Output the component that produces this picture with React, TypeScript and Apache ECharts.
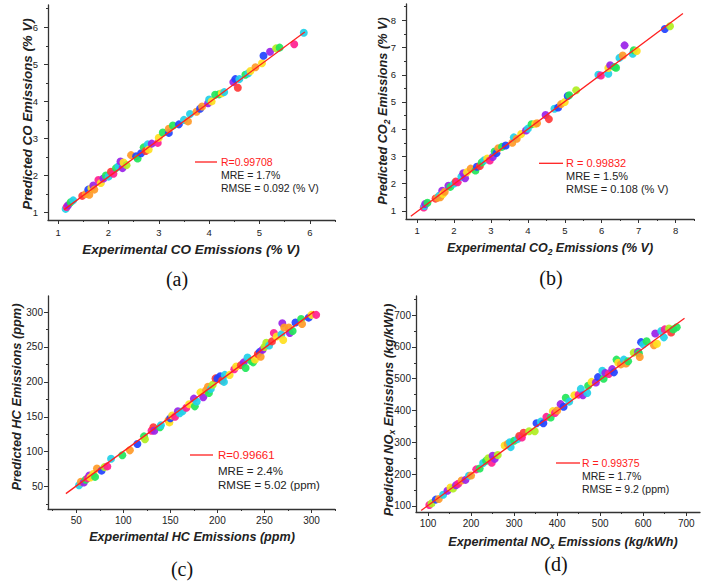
import React, { useEffect, useRef } from "react";
import * as echarts from "echarts";

// ---------- data ----------
const coExp = [1.15,1.17,1.20,1.25,1.30,1.48,1.55,1.60,1.62,1.66, 1.70,1.72,1.80,1.85,1.90,1.95,2.00,2.05,2.10,2.15, 2.20,2.24,2.28,2.30,2.36,2.45,2.55,2.58,2.65,2.70, 2.74,2.78,2.80,2.86,2.98,3.00,3.08,3.20,3.20,3.28, 3.40,3.50,3.58,3.62,3.75,3.82,3.86,3.98,4.00,4.05, 4.12,4.20,4.25,4.30,4.48,4.52,4.57,4.60,4.72,4.78, 4.82,4.92,5.05,5.08,5.21,5.33,5.40,5.69,5.88];
const coPred = [1.10,1.15,1.20,1.28,1.33,1.45,1.50,1.62,1.48,1.66, 1.73,1.62,1.88,1.80,1.92,2.00,1.97,2.10,2.05,2.20, 2.25,2.38,2.20,2.35,2.28,2.55,2.52,2.46,2.60,2.76, 2.66,2.84,2.70,2.86,2.88,3.02,3.16,3.15,3.26,3.35, 3.38,3.50,3.46,3.66,3.72,3.80,3.86,3.95,4.05,4.00, 4.18,4.19,4.22,4.25,4.52,4.60,4.37,4.60,4.72,4.76, 4.82,4.92,5.03,5.23,5.34,5.43,5.45,5.54,5.85];
const coHue = "cmpgcroboy" + "pomypgcrmg" + "cppylobgbg" + "rcypmygbog" + "bcocobopcy" + "ggycpbrcgc" + "yoybplgmc";
const coFit = [[1.12, 1.08], [5.9, 5.87]];
const coXTicks = [1, 2, 3, 4, 5, 6];
const coXMinor = [1.5, 2.5, 3.5, 4.5, 5.5, 6.5];
const coYTicks = [1, 2, 3, 4, 5, 6];
const coYMinor = [1.5, 2.5, 3.5, 4.5, 5.5, 6.5];

const co2Exp = [1.18,1.20,1.22,1.28,1.50,1.55,1.60,1.63,1.68,1.70, 1.75,1.85,1.90,2.00,2.05,2.10,2.20,2.25,2.30,2.35, 2.45,2.58,2.62,2.70,2.75,2.82,2.90,2.97,3.05,3.10, 3.15,3.20,3.30,3.40,3.58,3.62,3.70,3.82,3.95,4.00, 4.10,4.20,4.25,4.48,4.57,4.72,4.82,4.90,5.00,5.08, 5.12,5.31,5.91,5.98,6.18,6.18,6.23,6.35,6.39,6.48, 6.57,6.62,6.84,6.87,6.95,7.71,7.85];
const co2Pred = [1.12,1.18,1.25,1.30,1.45,1.48,1.56,1.50,1.74,1.62, 1.70,1.92,1.88,2.00,2.08,2.05,2.25,2.38,2.20,2.42, 2.55,2.48,2.62,2.65,2.78,2.86,2.92,2.85,2.98,3.18, 3.12,3.30,3.35,3.40,3.50,3.70,3.65,3.82,3.95,4.02, 4.18,4.20,4.22,4.52,4.37,4.75,4.80,4.92,5.00,5.22, 5.25,5.43,6.00,5.97,6.04,6.25,6.35,6.28,6.26,6.62, 6.71,7.08,6.77,6.90,6.87,7.68,7.78];
const co2Hue = "mcpgrocopy" + "opgcrmcppy" + "ogbrgcympg" + "bogbocoypc" + "gyoprcboyb" + "glcmcypggc" + "opcgybl";
const co2Fit = [[0.83, 0.8], [8.2, 8.25]];
const co2XTicks = [1, 2, 3, 4, 5, 6, 7, 8];
const co2XMinor = [1.5, 2.5, 3.5, 4.5, 5.5, 6.5, 7.5, 8.5];
const co2YTicks = [1, 2, 3, 4, 5, 6, 7, 8];
const co2YMinor = [1.5, 2.5, 3.5, 4.5, 5.5, 6.5, 7.5, 8.5];

const hcExp = [53,55,58,60,62,64,65,68,70,72, 77,80,83,87,99,107,115,122,123,130, 132,133,139,140,148,149,150,152,155,158, 160,163,167,170,175,176,178,182,185,188, 190,191,193,195,198,200,203,205,207,208, 213,218,220,225,228,230,232,236,238,240, 243,245,246,248,250,252,255,258,260,263, 268,269,270,271,276,277,280,283,289,290, 297,300,305];
const hcPred = [52,57,56,60,62,66,63,68,64,76, 73,78,79,90,95,102,111,122,118,130, 135,130,135,138,145,142,148,152,150,158, 155,158,163,168,176,165,172,185,178,188, 193,184,190,196,205,205,208,202,200,210, 210,218,222,224,228,220,235,230,228,232, 240,243,236,246,250,256,252,258,270,265, 268,284,260,278,278,270,273,285,290,283, 292,296,296];
const hcHue = "copgmpyygo" + "blmcgobglm" + "rpgcoybymp" + "ccmypgcypo" + "ogclrbbrcc" + "ymyrpgcggy" + "rbopllcrmy" + "cpyoopgbgo" + "bym";
const hcFit = [[39, 40], [303, 301]];
const hcXTicks = [50, 100, 150, 200, 250, 300];
const hcXMinor = [25, 75, 125, 175, 225, 275, 325];
const hcYTicks = [50, 100, 150, 200, 250, 300];
const hcYMinor = [25, 75, 125, 175, 225, 275];

const noxExp = [103,108,118,125,135,145,152,158,165,170, 178,187,195,200,212,220,228,235,240,248, 250,255,262,278,285,290,292,300,308,312, 318,322,335,348,352,362,368,375,385,390, 395,400,408,415,420,428,440,450,455,460, 470,472,480,490,495,505,508,512,520,528, 532,538,542,548,555,560,565,578,588,590, 592,595,600,608,625,628,632,642,648,650, 660,665,670,678];
const noxPred = [103,108,120,122,135,148,158,155,165,170, 180,182,195,196,215,218,235,242,250,236, 258,248,260,290,295,300,285,305,310,320, 315,330,335,335,360,365,360,380,378,398, 392,400,420,412,440,428,448,450,468,448, 455,478,490,488,505,525,500,518,515,530, 520,560,550,545,560,548,555,582,585,580, 568,615,608,618,605,642,610,650,630,655, 658,645,655,662];
const noxHue = "mlbocpylpm" + "opcomgcglm" + "pplyoccgcr" + "mrllbcbmgy" + "mopbgcymcp" + "cgypbcgpmp" + "bgyocoglpg" + "obcgopyccm" + "lrgg";
const noxFit = [[84, 86], [696, 690]];
const noxXTicks = [100, 200, 300, 400, 500, 600, 700];
const noxXMinor = [150, 250, 350, 450, 550, 650];
const noxYTicks = [100, 200, 300, 400, 500, 600, 700];
const noxYMinor = [150, 250, 350, 450, 550, 650, 750];

// ---------- styling ----------
const PALETTE: Record<string, string> = {
  r: "#ff3838", o: "#ff9a28", y: "#ffe01e", l: "#b0ee22", g: "#22e65a",
  c: "#22d0e8", b: "#2242ff", p: "#9a22e8", m: "#ff2090",
};
const SANS = "'Liberation Sans', Arial, Helvetica, sans-serif";
const SERIF = "'Liberation Serif', 'Times New Roman', serif";
const AXIS_COLOR = "#333";
const TEXT_COLOR = "#222";
const FIT_COLOR = "#ff2020";

type AxisCfg = { min: number; max: number; major: number[]; minor: number[]; fontSize: number; margin: number };
type Panel = {
  exp: number[]; pred: number[]; hue: string; fit: number[][];
  grid: [number, number, number, number];
  x: AxisCfg; y: AxisCfg;
};

const panels: Panel[] = [
  { exp: coExp, pred: coPred, hue: coHue, fit: coFit, grid: [48, 5, 287, 215],
    x: { min: 0.8, max: 6.5, major: coXTicks, minor: coXMinor, fontSize: 9.5, margin: 7 },
    y: { min: 0.8, max: 6.6, major: coYTicks, minor: coYMinor, fontSize: 9.5, margin: 10 } },
  { exp: co2Exp, pred: co2Pred, hue: co2Hue, fit: co2Fit, grid: [406, 4, 288, 215],
    x: { min: 0.7, max: 8.5, major: co2XTicks, minor: co2XMinor, fontSize: 9.5, margin: 6 },
    y: { min: 0.7, max: 8.6, major: co2YTicks, minor: co2YMinor, fontSize: 9.5, margin: 10 } },
  { exp: hcExp, pred: hcPred, hue: hcHue, fit: hcFit, grid: [48, 296, 287, 213],
    x: { min: 20, max: 325, major: hcXTicks, minor: hcXMinor, fontSize: 10, margin: 6 },
    y: { min: 18, max: 323, major: hcYTicks, minor: hcYMinor, fontSize: 10, margin: 5 } },
  { exp: noxExp, pred: noxPred, hue: noxHue, fit: noxFit, grid: [416, 296, 284, 216],
    x: { min: 72, max: 732, major: noxXTicks, minor: noxXMinor, fontSize: 10, margin: 6 },
    y: { min: 81, max: 760, major: noxYTicks, minor: noxYMinor, fontSize: 10, margin: 5 } },
];

const titleRich = {
  s: { fontSize: 8.5, fontWeight: "bold", fontStyle: "italic", fontFamily: SANS, fill: TEXT_COLOR, verticalAlign: "bottom", lineHeight: 8 },
};

function majorAxis(gi: number, a: AxisCfg, position: string) {
  return {
    type: "value", gridIndex: gi, position, min: a.min, max: a.max,
    axisLine: { show: true, onZero: false, lineStyle: { color: AXIS_COLOR, width: 1.3 } },
    axisTick: { show: true, inside: false, length: 4, customValues: a.major, lineStyle: { color: AXIS_COLOR, width: 1 } },
    axisLabel: { show: true, customValues: a.major, fontSize: a.fontSize, color: TEXT_COLOR, fontFamily: SANS, margin: a.margin },
    splitLine: { show: false },
  };
}
function minorAxis(gi: number, a: AxisCfg, position: string) {
  return {
    type: "value", gridIndex: gi, position, min: a.min, max: a.max,
    axisLine: { show: false, onZero: false },
    axisTick: { show: true, inside: false, length: 2, customValues: a.minor, lineStyle: { color: AXIS_COLOR, width: 1 } },
    axisLabel: { show: false },
    splitLine: { show: false },
  };
}

function titleText(text: string, x: number, y: number, size: number, vertical: boolean) {
  return {
    type: "text", x, y, rotation: vertical ? Math.PI / 2 : 0,
    style: {
      text, fontSize: size, fontWeight: "bold", fontStyle: "italic", fontFamily: SANS,
      fill: TEXT_COLOR, align: "center", verticalAlign: "middle", lineHeight: 16, rich: titleRich,
    },
  };
}
function plainText(text: string, x: number, y: number, size: number, fill: string, align = "left", family = SANS) {
  return { type: "text", x, y, style: { text, fontSize: size, fontFamily: family, fill, align, verticalAlign: "middle" } };
}
function legendBlock(lx1: number, lx2: number, tx: number, ys: number[], size: number, r: string, mre: string, rmse: string) {
  return [
    { type: "line", shape: { x1: lx1, y1: ys[0], x2: lx2, y2: ys[0] }, style: { stroke: FIT_COLOR, lineWidth: 1.3 } },
    plainText(r, tx, ys[0], size, FIT_COLOR),
    plainText(mre, tx, ys[1], size, TEXT_COLOR),
    plainText(rmse, tx, ys[2], size, TEXT_COLOR),
  ];
}

export default function App() {
  const ref = useRef<HTMLDivElement>(null);
  useEffect(() => {
    if (!ref.current) return;
    const chart = echarts.init(ref.current, undefined, { renderer: "svg" });
    const grid: any[] = [];
    const xAxis: any[] = [];
    const yAxis: any[] = [];
    const series: any[] = [];
    panels.forEach((p, i) => {
      grid.push({ left: p.grid[0], top: p.grid[1], width: p.grid[2], height: p.grid[3], containLabel: false, outerBoundsMode: "none" });
      xAxis.push(majorAxis(i, p.x, "bottom"), minorAxis(i, p.x, "bottom"));
      yAxis.push(majorAxis(i, p.y, "left"), minorAxis(i, p.y, "left"));
      series.push({
        type: "scatter", xAxisIndex: 2 * i, yAxisIndex: 2 * i, symbol: "circle", symbolSize: 8, z: 2,
        data: p.exp.map((x, k) => ({ value: [x, p.pred[k]], itemStyle: { color: PALETTE[p.hue[k]], opacity: 0.92 } })),
      });
      series.push({
        type: "line", xAxisIndex: 2 * i, yAxisIndex: 2 * i, data: p.fit, symbol: "none", z: 3,
        lineStyle: { color: FIT_COLOR, width: 1.3 },
      });
    });

    const graphic: any[] = [
      titleText("Experimental CO Emissions (% V)", 191, 249, 13.5, false),
      titleText("Predicted CO Emissions (% V)", 27, 114, 13.3, true),
      titleText("Experimental CO{s|2} Emissions (% V)", 550, 248, 12.5, false),
      titleText("Predicted CO{s|2} Emissions (% V)", 383, 111, 12.7, true),
      titleText("Experimental HC Emissions (ppm)", 192, 537, 12.6, false),
      titleText("Predicted HC Emissions (ppm)", 16, 397, 12.8, true),
      titleText("Experimental NO{s|x} Emissions (kg/kWh)", 563, 542, 12.6, false),
      titleText("Predicted NO{s|x} Emissions (kg/kWh)", 388, 410, 12.9, true),
      plainText("(a)", 177, 279, 20, "#111", "center", SERIF),
      plainText("(b)", 551, 278, 20, "#111", "center", SERIF),
      plainText("(c)", 182, 569, 20, "#111", "center", SERIF),
      plainText("(d)", 556, 564, 20, "#111", "center", SERIF),
      ...legendBlock(195, 217, 221, [162, 174.5, 187.5], 10.5, "R=0.99708", "MRE = 1.7%", "RMSE = 0.092 (% V)"),
      ...legendBlock(539, 563, 566, [163.3, 176, 189.3], 11, "R = 0.99832", "MRE = 1.5%", "RMSE = 0.108 (% V)"),
      ...legendBlock(190, 213, 218, [455, 470.5, 485], 11.5, "R=0.99661", "MRE = 2.4%", "RMSE = 5.02 (ppm)"),
      ...legendBlock(556, 580, 582, [463, 476, 489], 10.5, "R = 0.99375", "MRE = 1.7%", "RMSE = 9.2 (ppm)"),
    ];

    chart.setOption({
      animation: false,
      backgroundColor: "#ffffff",
      grid, xAxis, yAxis, series, graphic,
    });
    return () => chart.dispose();
  }, []);
  return <div ref={ref} style={{ position: "fixed", left: 0, top: 0, width: 706, height: 582, background: "#fff" }} />;
}
